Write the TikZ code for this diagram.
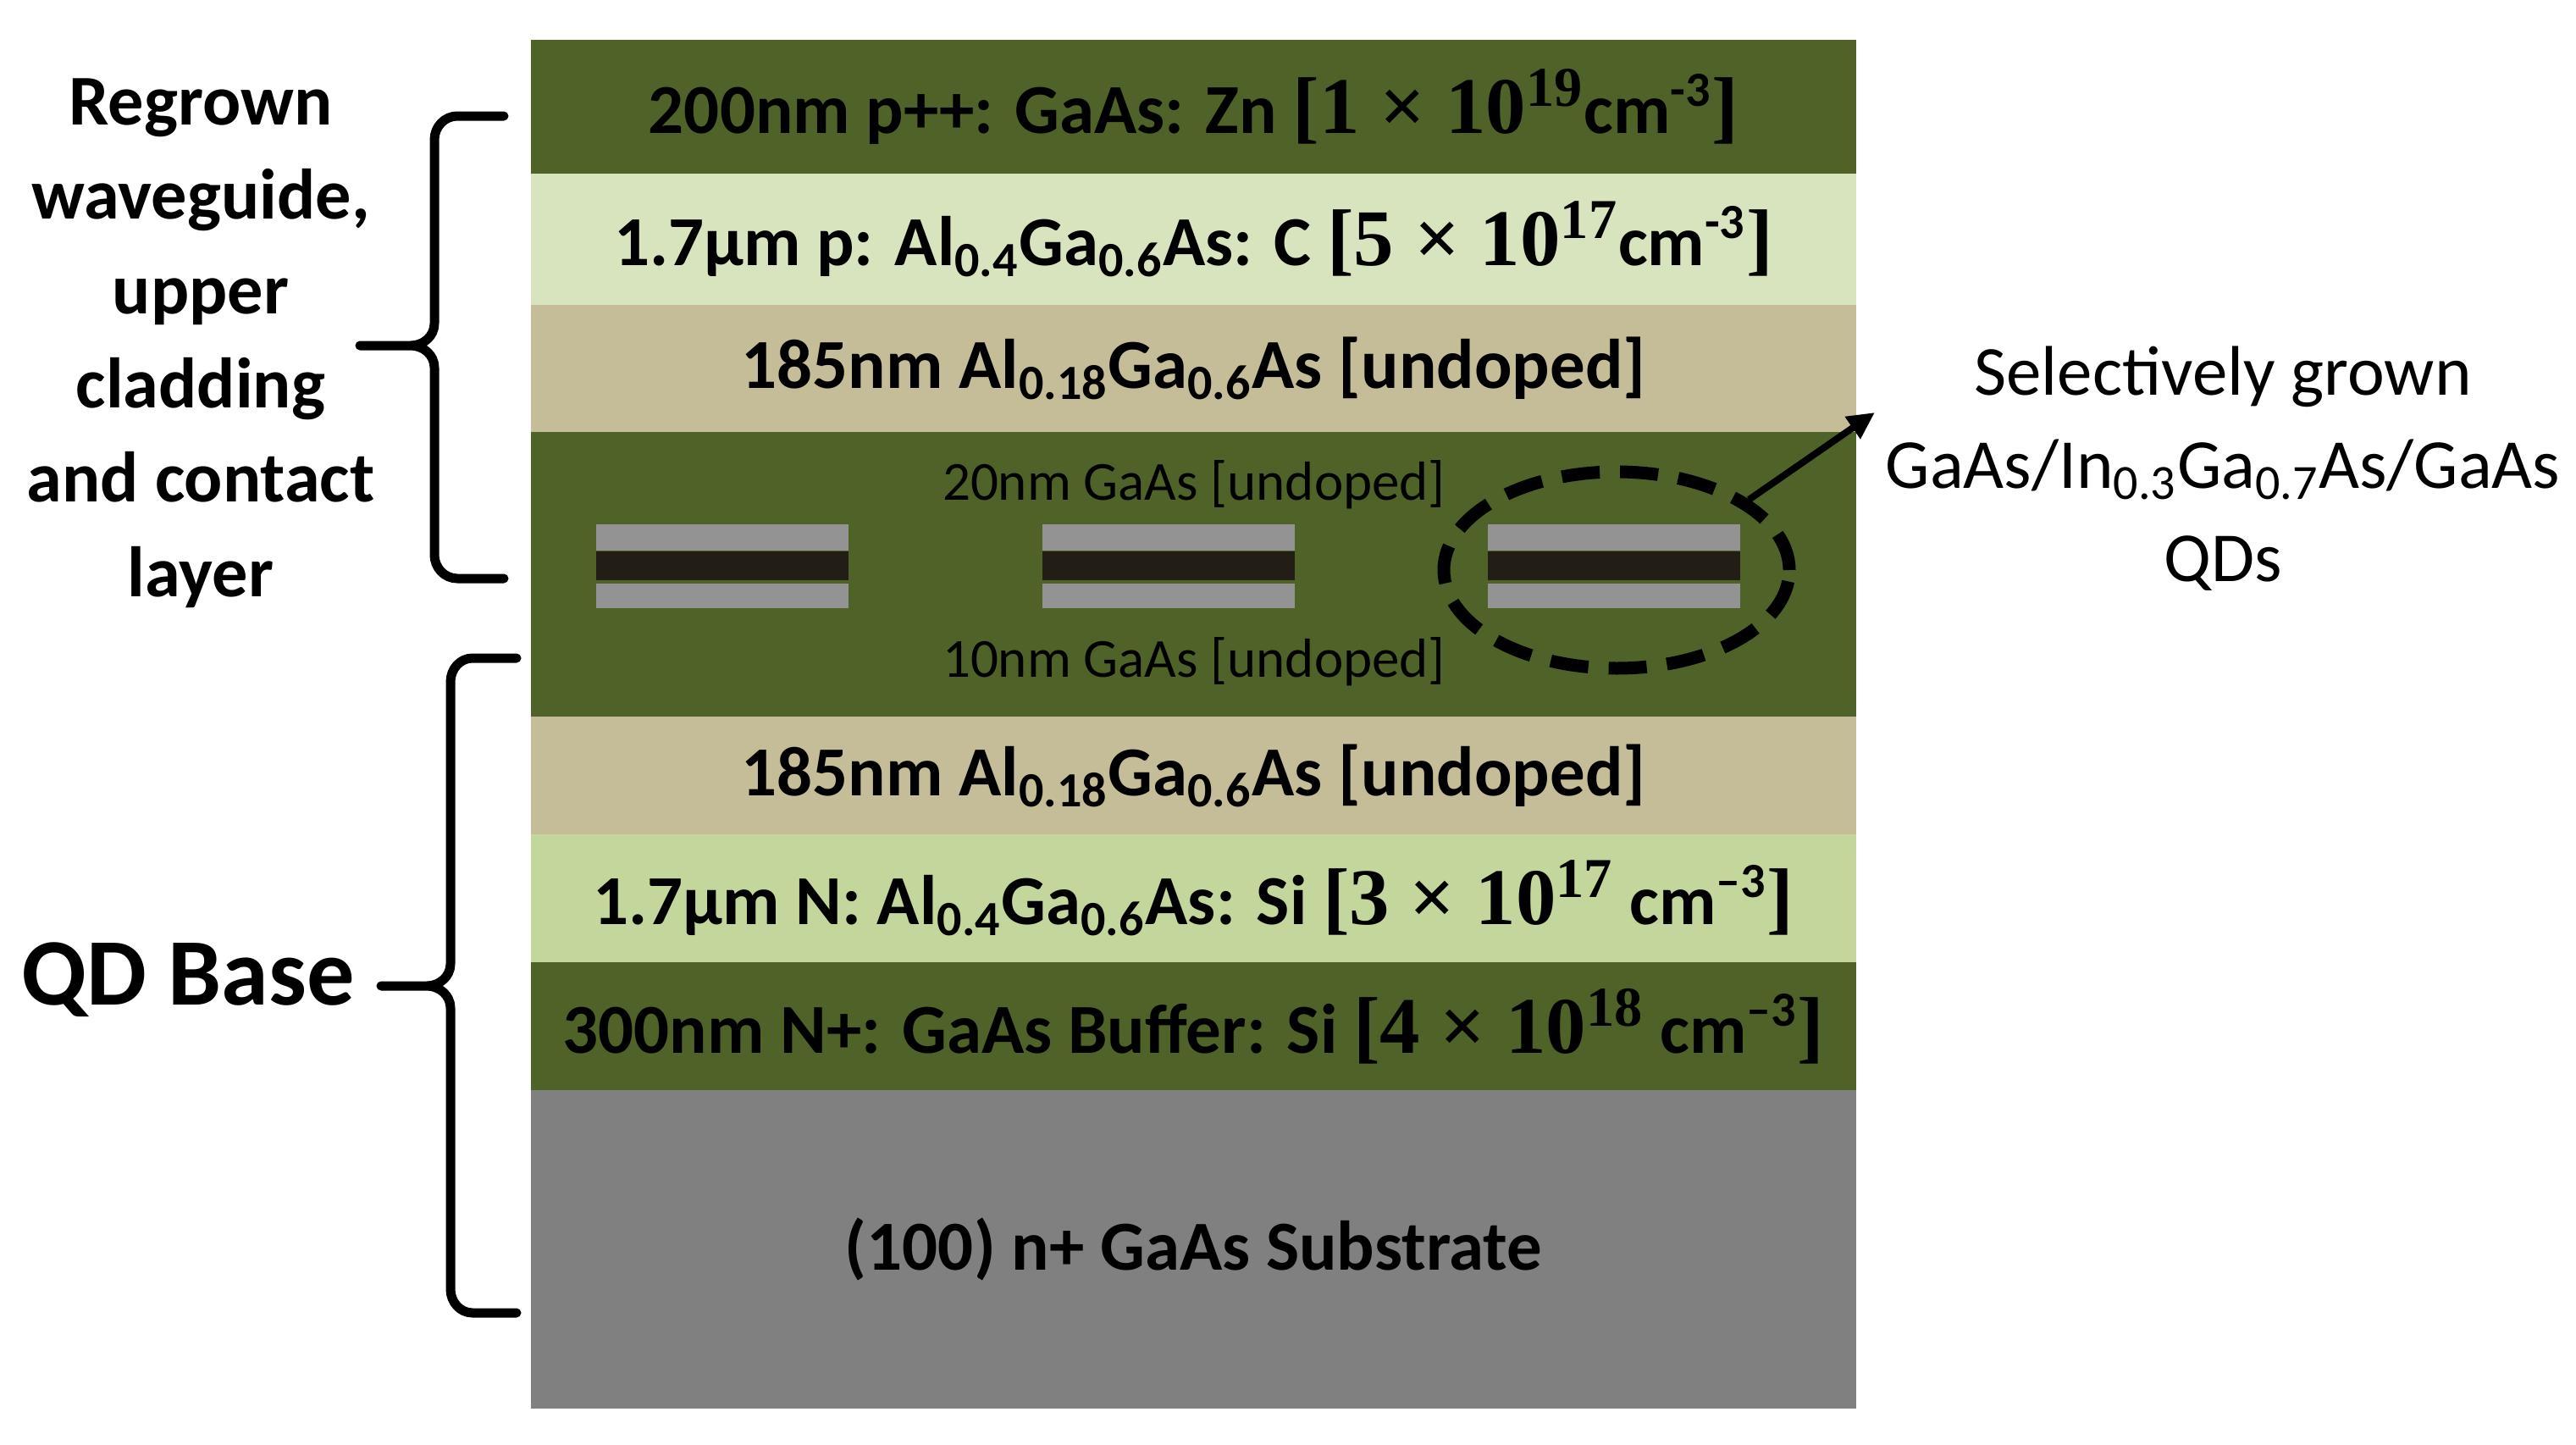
\documentclass[tikz,border=0pt]{standalone}
\usepackage{fontspec}
\setmainfont{Carlito}
\newfontfamily\serifnum{Liberation Serif}
\usetikzlibrary{shapes.geometric,arrows.meta}

\definecolor{darkolive}{HTML}{4F6228}
\definecolor{palegreen}{HTML}{D7E4BD}
\definecolor{midgreen}{HTML}{C3D69B}
\definecolor{sandlayer}{HTML}{C4BD97}
\definecolor{subgray}{HTML}{808080}
\definecolor{dotgray}{HTML}{939393}
\definecolor{dotblack}{HTML}{221E16}

\newcommand{\dens}[2]{{\serifnum\fontsize{27}{28}\selectfont[#1 × 10\textsuperscript{#2}}}
\newcommand{\closebr}{{\serifnum\fontsize{27}{28}\selectfont]}}

\begin{document}
\begin{tikzpicture}
  [every node/.style={inner sep=0pt},
   layer/.style={rectangle,minimum width=15.65cm,font=\fontsize{23.6}{28}\selectfont\bfseries},
   thin/.style={font=\fontsize{18.5}{22}\selectfont},
   side/.style={align=center,font=\fontsize{24}{31.7}\selectfont\bfseries},
   bracket/.style={line width=0.11cm,line cap=round,line join=round},
   ring/.style={ellipse,draw,line width=0.15cm,dash pattern=on 0.45cm off 0.24cm,
     minimum width=4.08cm,minimum height=2.32cm},
   pointer/.style={line width=0.08cm,-{Triangle[length=0.32cm,width=0.3cm]}}]
  \useasboundingbox (0,0) rectangle (30.42,-17.06);

  % layer stack
  \node[layer,fill=darkolive,minimum height=1.58cm] (cap) at (14.095,-1.26) {200nm p++: GaAs: Zn \dens{1}{19}cm\textsuperscript{-3}\closebr};
  \node[layer,fill=palegreen,minimum height=1.55cm] (pclad) at (14.095,-2.825) {1.7µm p: Al\textsubscript{0.4}Ga\textsubscript{0.6}As: C \dens{5}{17}cm\textsuperscript{-3}\closebr};
  \node[layer,fill=sandlayer,minimum height=1.50cm] (upwg) at (14.095,-4.35) {185nm Al\textsubscript{0.18}Ga\textsubscript{0.6}As [undoped]};
  \node[layer,fill=darkolive,minimum height=3.36cm] (qdlayer) at (14.095,-6.78) {};
  \node[layer,fill=sandlayer,minimum height=1.39cm] (lowwg) at (14.095,-9.155) {185nm Al\textsubscript{0.18}Ga\textsubscript{0.6}As [undoped]};
  \node[layer,fill=midgreen,minimum height=1.51cm] (nclad) at (14.095,-10.605) {1.7µm N: Al\textsubscript{0.4}Ga\textsubscript{0.6}As: Si \dens{3}{17} cm\textsuperscript{–3}\closebr};
  \node[layer,fill=darkolive,minimum height=1.51cm] (buffer) at (14.095,-12.115) {300nm N+: GaAs Buffer: Si \dens{4}{18} cm\textsuperscript{–3}\closebr};
  \node[layer,fill=subgray,minimum height=3.76cm] (substrate) at (14.095,-14.75) {(100) n+ GaAs Substrate};

  % dots
  \foreach \x in {7.04,12.31,17.57} {
    \fill[dotgray] (\x,-6.19) rectangle ++(2.98,-0.31);
    \fill[dotblack] (\x,-6.51) rectangle ++(2.98,-0.34);
    \fill[dotgray] (\x,-6.89) rectangle ++(2.98,-0.29);
  }
  \node[thin] (gaastop) at (14.10,-5.72) {20nm GaAs [undoped]};
  \node[thin] (gaasbot) at (14.10,-7.81) {10nm GaAs [undoped]};

  \node[ring] (qdring) at (19.09,-6.73) {};
  \node[align=center,font=\fontsize{23.6}{31.3}\selectfont] (qdlabel) at (26.25,-5.53)
    {Selectively grown\\GaAs/In\textsubscript{0.3}Ga\textsubscript{0.7}As/GaAs\\QDs};
  \coordinate (qdtip) at (22.14,-4.87);
  \draw[pointer] (qdring.28) -- (qdtip);

  % braces
  \node[side] (regrown) at (2.37,-4.05) {Regrown\\waveguide,\\upper\\cladding\\and contact\\layer};
  \node[side,font=\fontsize{32}{38}\selectfont\bfseries] (qdbase) at (2.22,-11.57) {QD Base};

  \coordinate (ubtop) at (5.95,-1.37);
  \coordinate (ubtip) at (4.25,-4.08);
  \coordinate (ubbot) at (5.95,-6.83);
  \draw[bracket] (ubtop) -- (5.40,-1.37) to[out=180,in=90] (5.13,-1.65) -- (5.13,-3.82)
    to[out=-90,in=0] (4.85,-4.08) -- (ubtip) -- (4.85,-4.08) to[out=0,in=90] (5.13,-4.34)
    -- (5.13,-6.55) to[out=-90,in=180] (5.40,-6.83) -- (ubbot);

  \coordinate (lbtop) at (6.10,-7.77);
  \coordinate (lbtip) at (4.50,-11.64);
  \coordinate (lbbot) at (6.10,-15.50);
  \draw[bracket] (lbtop) -- (5.58,-7.77) to[out=180,in=90] (5.32,-8.05) -- (5.32,-11.38)
    to[out=-90,in=0] (5.04,-11.64) -- (lbtip) -- (5.04,-11.64) to[out=0,in=90] (5.32,-11.90)
    -- (5.32,-15.22) to[out=-90,in=180] (5.58,-15.50) -- (lbbot);
\end{tikzpicture}
\end{document}
